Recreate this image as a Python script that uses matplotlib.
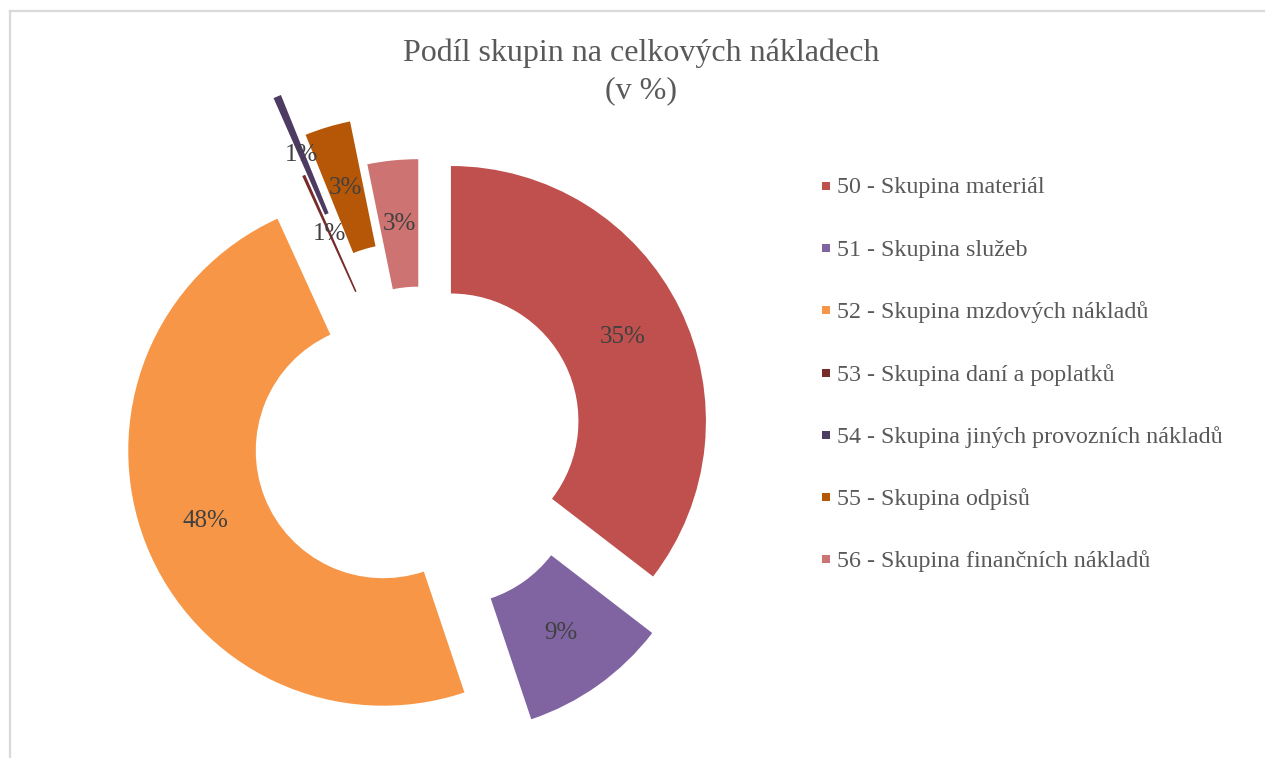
import numpy as np
import matplotlib.pyplot as plt
from matplotlib.patches import Rectangle
from matplotlib.lines import Line2D

plt.rcParams['font.family'] = ['Liberation Serif', 'DejaVu Serif']

# data (share of total costs, %)
categories = ['50 - Skupina materiál', '51 - Skupina služeb', '52 - Skupina mzdových nákladů',
              '53 - Skupina daní a poplatků', '54 - Skupina jiných provozních nákladů',
              '55 - Skupina odpisů', '56 - Skupina finančních nákladů']
values = [35.4, 9.4, 48.3, 0.2, 0.5, 2.9, 3.2]
pct_labels = ['35%', '9%', '48%', '1%', '1%', '3%', '3%']
colors = ['#C0504D', '#8064A2', '#F79646', '#772C2A', '#4D3B62', '#B65708', '#CD7371']
explode = [0.133, 0.2, 0.157, 0.12, 0.445, 0.265, 0.086]

W, H = 1265, 758
fig = plt.figure(figsize=(W / 100, H / 100), dpi=100)

# axes placed so the pie centre sits at (420, 436) px, radius 255 px
R = 255
cx, cy = 420.5, H - 436
lim = 1.7
side = 2 * lim * R
ax = fig.add_axes([(cx - side / 2) / W, (cy - side / 2) / H, side / W, side / H])

wedges, _ = ax.pie(values, colors=colors, explode=explode, startangle=90, counterclock=False,
                   wedgeprops=dict(width=0.5, linewidth=0))
ax.set_xlim(-lim, lim)
ax.set_ylim(-lim, lim)
ax.set_aspect('equal')
ax.axis('off')

# percentage labels in the middle of each ring piece
for w, lab in zip(wedges, pct_labels):
    ang = np.deg2rad((w.theta1 + w.theta2) / 2)
    x = w.center[0] + 0.75 * np.cos(ang)
    y = w.center[1] + 0.75 * np.sin(ang)
    ax.text(x, y, lab, ha='center', va='center', fontsize=18, color='#404040')

# title
fig.text(641 / W, 1 - 53 / H, 'Podíl skupin na celkových nákladech', ha='center', va='center',
         fontsize=23, color='#595959')
fig.text(641 / W, 1 - 91 / H, '(v %)', ha='center', va='center', fontsize=23, color='#595959')

# legend
ly0, dy = 188, 62.2
for i, (name, col) in enumerate(zip(categories, colors)):
    y = ly0 + i * dy
    fig.add_artist(Rectangle((822 / W, 1 - (y + 2) / H), 8 / W, 8 / H,
                             transform=fig.transFigure, facecolor=col, edgecolor='none'))
    fig.text(837 / W, 1 - y / H, name, ha='left', va='center', fontsize=17.3, color='#595959')

# chart area border (top and left edges visible)
fig.add_artist(Line2D([9.5 / W, 1], [1 - 11 / H, 1 - 11 / H], transform=fig.transFigure,
                      color='#D9D9D9', linewidth=1.6))
fig.add_artist(Line2D([9.5 / W, 9.5 / W], [0, 1 - 11 / H], transform=fig.transFigure,
                      color='#D9D9D9', linewidth=1.6))

fig.savefig('out.png', dpi=100)
